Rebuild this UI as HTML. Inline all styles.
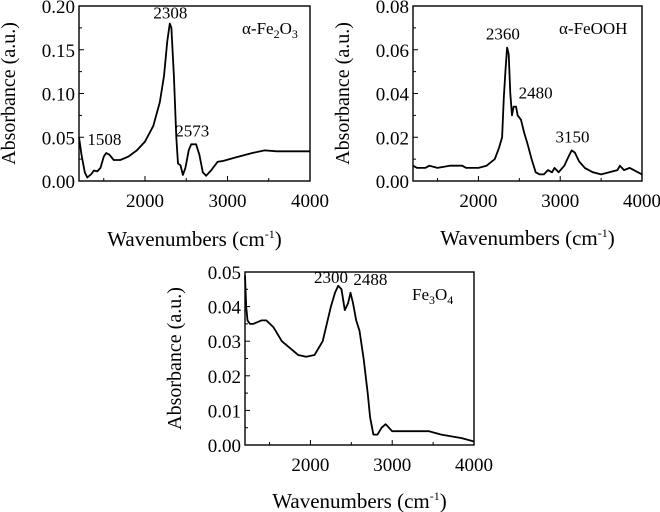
<!DOCTYPE html>
<html><head><meta charset="utf-8">
<style>
body{margin:0;background:#fff;}
svg{display:block;font-family:"Liberation Serif",serif;}
</style></head>
<body>
<svg id="fig" width="660" height="512" viewBox="0 0 660 512"></svg>
<script>
// Panel 1: alpha-Fe2O3
const fe2o3Wavenumbers=[1200,1230,1270,1300,1350,1380,1420,1460,1500,1530,1570,1620,1700,1800,1900,2000,2100,2180,2230,2270,2300,2320,2350,2380,2400,2430,2460,2490,2530,2560,2620,2660,2700,2740,2800,2880,2950,3100,3300,3450,3600,4000];
const fe2o3Absorbance=[0.05,0.03,0.01,0.004,0.008,0.012,0.011,0.015,0.028,0.032,0.03,0.024,0.024,0.028,0.035,0.045,0.063,0.09,0.12,0.16,0.18,0.175,0.12,0.05,0.02,0.018,0.007,0.015,0.035,0.042,0.042,0.03,0.01,0.006,0.012,0.022,0.023,0.027,0.032,0.035,0.034,0.034];
// Panel 2: alpha-FeOOH
const feoohWavenumbers=[1200,1250,1350,1400,1500,1650,1800,1850,2000,2100,2200,2250,2290,2310,2330,2350,2370,2390,2410,2430,2460,2480,2520,2560,2600,2650,2700,2750,2800,2850,2900,2930,2980,3050,3100,3140,3180,3230,3300,3400,3500,3600,3700,3730,3780,3850,3900,4000];
const feoohAbsorbance=[0.007,0.006,0.006,0.007,0.006,0.007,0.007,0.006,0.006,0.007,0.01,0.015,0.02,0.038,0.05,0.061,0.058,0.04,0.03,0.034,0.034,0.03,0.028,0.022,0.017,0.01,0.004,0.003,0.003,0.005,0.004,0.006,0.004,0.007,0.011,0.014,0.013,0.009,0.006,0.004,0.003,0.004,0.005,0.007,0.005,0.006,0.005,0.003];
// Panel 3: Fe3O4
const fe3o4Wavenumbers=[1200,1215,1230,1260,1300,1400,1460,1550,1650,1750,1850,1950,2050,2150,2250,2300,2340,2380,2420,2460,2490,2520,2560,2600,2650,2700,2730,2770,2820,2870,2920,2960,3000,3200,3450,3600,3850,4000];
const fe3o4Absorbance=[0.049,0.04,0.036,0.035,0.035,0.036,0.036,0.034,0.03,0.028,0.026,0.0255,0.026,0.03,0.04,0.044,0.046,0.045,0.039,0.041,0.044,0.041,0.036,0.033,0.025,0.015,0.008,0.003,0.003,0.005,0.006,0.005,0.004,0.004,0.004,0.003,0.002,0.001];
const xTickLabels=["2000","3000","4000"];
const xTickValues=[2000,3000,4000];
const fe2o3YTicks=["0.00","0.05","0.10","0.15","0.20"];
const feoohYTicks=["0.00","0.02","0.04","0.06","0.08"];
const fe3o4YTicks=["0.00","0.01","0.02","0.03","0.04","0.05"];

const NS="http://www.w3.org/2000/svg";
const svg=document.getElementById('fig');
function mk(tag,attrs,parent,text){const e=document.createElementNS(NS,tag);for(const k in attrs)e.setAttribute(k,attrs[k]);if(text!==undefined)e.textContent=text;(parent||svg).appendChild(e);return e;}

function panel(cfg){
  const g=mk('g',{});
  
  
  const xs=v=>cfg.L+(v-1200)/(4000-1200)*(cfg.R-cfg.L);
  const ys=v=>cfg.B-(v/cfg.ymax)*(cfg.B-cfg.T);
  const frame=mk('rect',{x:cfg.L,y:cfg.T,width:cfg.R-cfg.L,height:cfg.B-cfg.T,fill:'none',stroke:'#000','stroke-width':1.4},g);
  
  
  for(let v=1500;v<=4000;v+=500){const x=xs(v);const len=(v%1000===0)?5:3;mk('line',{x1:x,x2:x,y1:cfg.B,y2:cfg.B-len,stroke:'#000','stroke-width':1},g);}
  xTickValues.forEach((v,i)=>{const t=mk('text',{x:xs(v),y:cfg.B+26,'text-anchor':'middle','font-size':19},g,xTickLabels[i]);
    
    });
  const n=cfg.yLabels.length-1;
  for(let i=0;i<=n*2;i++){const v=cfg.ymax*i/(n*2);const y=ys(v);const len=(i%2===0)?5:3;mk('line',{x1:cfg.L,x2:cfg.L+len,y1:y,y2:y,stroke:'#000','stroke-width':1},g);}
  cfg.yLabels.forEach((s,i)=>{const t=mk('text',{x:cfg.L-4,y:ys(parseFloat(s))+7,'text-anchor':'end','font-size':19},g,s);
    
    });
  const cy=(cfg.T+cfg.B)/2;
  const yx=cfg.L-64;
  const yt=mk('text',{x:yx,y:cy,'text-anchor':'middle','font-size':20,transform:`rotate(-90 ${yx} ${cy})`},g,'Absorbance (a.u.)');
  
  
  const xt=mk('text',{x:(cfg.L+cfg.R)/2,y:cfg.titleY,'text-anchor':'middle','font-size':21},g);
  
  
  xt.innerHTML='Wavenumbers (cm<tspan dy="-8" font-size="12">-1</tspan><tspan dy="8">)</tspan>';
  const pts=cfg.xsData.map((v,i)=>xs(v).toFixed(1)+','+ys(cfg.ysData[i]).toFixed(1)).join(' ');
  const line=mk('polyline',{points:pts,fill:'none',stroke:'#000','stroke-width':1.8,'stroke-linejoin':'round'},g);
  
  
  cfg.peaks.forEach(p=>{const t=mk('text',{x:xs(p[0])+(p[2]||0),y:ys(p[1])-(p[3]||6),'text-anchor':'middle','font-size':17},g,String(p[0]));
    
    });
  const lab=mk('text',{x:cfg.labX,y:cfg.T+28,'font-size':17},g);
  
  
  lab.innerHTML=cfg.label;
}
panel({name:'fe2o3-panel',L:79,R:310,T:6,B:181,ymax:0.2,yLabels:fe2o3YTicks,xsData:fe2o3Wavenumbers,ysData:fe2o3Absorbance,titleY:246,
  peaks:[[1508,0.032,0,8],[2308,0.18,0,5],[2573,0.042,0,8]],labX:242,label:'α-Fe<tspan dy="4" font-size="12">2</tspan><tspan dy="-4">O</tspan><tspan dy="4" font-size="12">3</tspan>'});
panel({name:'feooh-panel',L:413,R:642,T:6,B:181,ymax:0.08,yLabels:feoohYTicks,xsData:feoohWavenumbers,ysData:feoohAbsorbance,titleY:245,
  peaks:[[2360,0.061,-5,8],[2480,0.034,18,8],[3150,0.014,0,8]],labX:559,label:'α-FeOOH'});
panel({name:'fe3o4-panel',L:245,R:474,T:272,B:445,ymax:0.05,yLabels:fe3o4YTicks,xsData:fe3o4Wavenumbers,ysData:fe3o4Absorbance,titleY:508,
  peaks:[[2300,0.046,-4,3],[2488,0.044,20,8]],labX:412,label:'Fe<tspan dy="4" font-size="12">3</tspan><tspan dy="-4">O</tspan><tspan dy="4" font-size="12">4</tspan>'});
</script>
</body></html>
